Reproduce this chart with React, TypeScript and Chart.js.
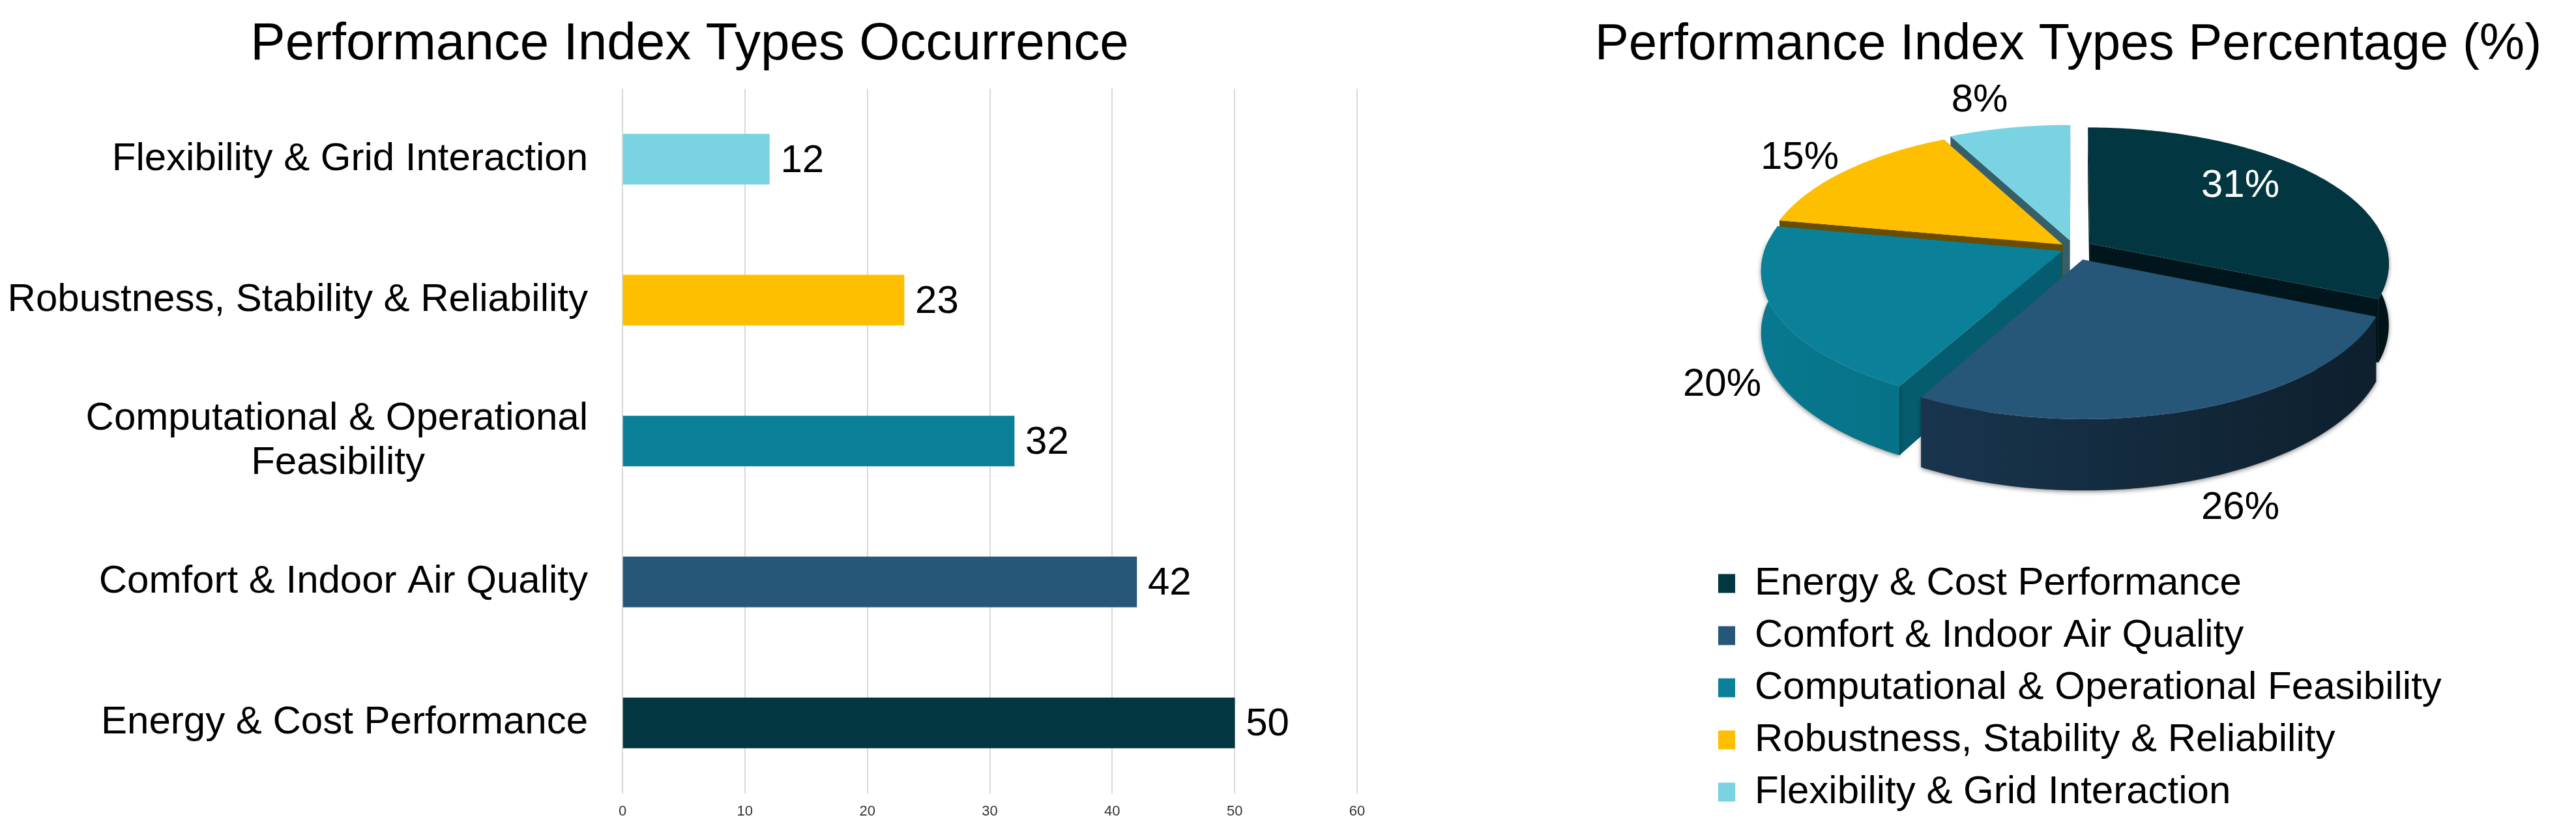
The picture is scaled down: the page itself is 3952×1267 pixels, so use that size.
import React, { useEffect, useRef } from "react";
import { Chart, registerables } from "chart.js";

Chart.register(...registerables);

const FONT = "'Liberation Sans', Arial, sans-serif";

const categories = [
  "Energy & Cost Performance",
  "Comfort & Indoor Air Quality",
  "Computational & Operational Feasibility",
  "Robustness, Stability & Reliability",
  "Flexibility & Grid Interaction",
];
// Category tick text as the left axis shows it (top to bottom).
// The trailing spaces centre the short line under the long one.
const barTickLabels: (string | string[])[] = [
  "Flexibility & Grid Interaction",
  "Robustness, Stability & Reliability",
  ["Computational & Operational", "Feasibility               "],
  "Comfort & Indoor Air Quality",
  "Energy & Cost Performance",
];
const occurrences = [12, 23, 32, 42, 50];
const barColors = ["#7AD3E3", "#FDBF00", "#0A8099", "#275778", "#023641"];
const pieValues = [50, 42, 32, 23, 12];
const percentLabels = ["31%", "26%", "20%", "15%", "8%"];
const pieColors = ["#023641", "#275778", "#0A8099", "#FDBF00", "#7AD3E3"];
const pieCutColors = ["#00161C", "#1B3D54", "#055C6E", "#6A4D00", "#35606A"];
const pieRimLeft = ["#00222A", "#1C3C58", "#07788F", "#8A6500", "#4A8A96"];
const pieRimRight = ["#001418", "#0E1F2D", "#055A6A", "#6A4D00", "#35606A"];
const pieOffsets = [29, 40, 20, 22, 28];
const valueTicks = [0, 10, 20, 30, 40, 50, 60];

// Canvas-relative anchors for the pie's percent labels
const pieLabelPos: [number, number][] = [
  [1043, 285],
  [1043, 779],
  [248, 590],
  [367, 242],
  [643, 154],
];
const pieLabelColors = ["#FFFFFF", "#000000", "#000000", "#000000", "#000000"];

const barValueLabels = {
  id: "barValueLabels",
  afterDatasetsDraw(chart: any) {
    const { ctx } = chart;
    const meta = chart.getDatasetMeta(0);
    ctx.save();
    ctx.font = `60px ${FONT}`;
    ctx.fillStyle = "#000";
    ctx.textAlign = "left";
    ctx.textBaseline = "middle";
    meta.data.forEach((bar: any, i: number) => {
      ctx.fillText(String(occurrences[i]), bar.x + 17, bar.y + 3);
    });
    ctx.restore();
  },
};

// The title sits a little right of the space the plot leaves for it
const centreBarTitle = {
  id: "centreBarTitle",
  afterLayout(chart: any) {
    chart.titleBlock.left = 34;
  },
};

const GEO = { cx: 788, cy: 381, R: 456, d: 2908, sin: 0.45, cos: 0.893, h: 104 };

function project(px: number, py: number, z: number): [number, number] {
  const s = GEO.d / (GEO.d - py * GEO.cos);
  return [GEO.cx + px * s, GEO.cy + py * GEO.sin * s + z * GEO.cos * s];
}

const pie3d = {
  id: "pie3d",
  beforeDatasetsDraw(chart: any) {
    const { ctx } = chart;
    const arcs = chart.getDatasetMeta(0).data.map((arc: any, i: number) => {
      const a0 = arc.startAngle;
      const a1 = arc.endAngle;
      const mid = (a0 + a1) / 2;
      const off = arc.options.offset || 0;
      return { i, a0, a1, mid, ox: Math.cos(mid) * off, oy: Math.sin(mid) * off };
    });
    // Painter's order: far slices first
    arcs.sort((p: any, q: any) => Math.sin(p.mid) - Math.sin(q.mid));
    ctx.save();
    for (const s of arcs) {
      const steps = 120;
      const top: [number, number][] = [];
      const rimTop: [number, number][] = [];
      const rimBottom: [number, number][] = [];
      let edge0: [number, number] = [0, 0];
      let edge1: [number, number] = [0, 0];
      for (let k = 0; k <= steps; k++) {
        const a = s.a0 + ((s.a1 - s.a0) * k) / steps;
        const px = s.ox + GEO.R * Math.cos(a);
        const py = s.oy + GEO.R * Math.sin(a);
        top.push(project(px, py, 0));
        if (k === 0) edge0 = project(px, py, GEO.h);
        if (k === steps) edge1 = project(px, py, GEO.h);
        if (Math.sin(a) >= -0.1) {
          rimTop.push(project(px, py, 0));
          rimBottom.push(project(px, py, GEO.h));
        }
      }
      const apexT = project(s.ox, s.oy, 0);
      const apexB = project(s.ox, s.oy, GEO.h);
      const poly = (pts: [number, number][], fill: any) => {
        if (!pts.length) return;
        ctx.beginPath();
        pts.forEach((p, n) => (n ? ctx.lineTo(p[0], p[1]) : ctx.moveTo(p[0], p[1])));
        ctx.closePath();
        ctx.fillStyle = fill;
        ctx.fill();
      };
      // cut faces first
      poly([apexT, top[0], edge0, apexB], pieCutColors[s.i]);
      poly([apexT, top[steps], edge1, apexB], pieCutColors[s.i]);
      // rim
      const grad = ctx.createLinearGradient(GEO.cx - GEO.R, 0, GEO.cx + GEO.R, 0);
      grad.addColorStop(0, pieRimLeft[s.i]);
      grad.addColorStop(1, pieRimRight[s.i]);
      ctx.shadowColor = "rgba(0,0,0,0.45)";
      ctx.shadowBlur = 7;
      ctx.shadowOffsetY = 2;
      poly([...rimTop, ...rimBottom.slice().reverse()], grad);
      ctx.shadowColor = "transparent";
      ctx.shadowBlur = 0;
      ctx.shadowOffsetY = 0;
      // top face
      poly([apexT, ...top], pieColors[s.i]);
    }
    ctx.font = `60px ${FONT}`;
    ctx.textAlign = "center";
    ctx.textBaseline = "middle";
    percentLabels.forEach((t, i) => {
      ctx.fillStyle = pieLabelColors[i];
      ctx.fillText(t, pieLabelPos[i][0], pieLabelPos[i][1]);
    });
    ctx.restore();
    return false;
  },
};

const moveLegend = {
  id: "moveLegend",
  afterLayout(chart: any) {
    const lg = chart.legend;
    lg.left = 222;
    lg.width = 1300;
    lg.right = 222 + 1300;
    lg.top = 845;
    lg.height = 2000;
    lg.bottom = 845 + 2000;
  },
};

export default function App() {
  const barRef = useRef<HTMLCanvasElement>(null);
  const pieRef = useRef<HTMLCanvasElement>(null);

  useEffect(() => {
    const bar = new Chart(barRef.current!, {
      type: "bar",
      data: {
        labels: barTickLabels as any,
        datasets: [
          {
            data: occurrences,
            backgroundColor: barColors,
            barThickness: 77,
            borderWidth: 0,
          },
        ],
      },
      options: {
        indexAxis: "y",
        animation: false,
        responsive: false,
        layout: { padding: { right: 34, left: 0, top: 0, bottom: 0 } },
        plugins: {
          legend: { display: false },
          tooltip: { enabled: false },
          title: {
            display: true,
            text: "Performance Index Types Occurrence",
            color: "#000",
            font: { family: FONT, size: 80, weight: "normal" },
            padding: { top: 21, bottom: 19 },
          },
        },
        scales: {
          x: {
            min: 0,
            max: 60,
            afterBuildTicks(scale: any) {
              scale.ticks = valueTicks.map((value) => ({ value }));
            },
            afterFit(scale: any) {
              scale.height = 50;
            },
            grid: { color: "#D9D9D9", lineWidth: 2, drawTicks: false },
            border: { display: false },
            ticks: {
              color: "#333",
              font: { family: FONT, size: 22 },
              padding: 15,
              maxRotation: 0,
            },
          },
          y: {
            afterFit(scale: any) {
              scale.width = 955;
              scale.paddingTop = 0;
              scale.paddingBottom = 0;
            },
            grid: { display: false, drawTicks: false },
            border: { display: false },
            ticks: {
              color: "#000",
              font: { family: FONT, size: 60, lineHeight: 1.133 },
              padding: 53,
              autoSkip: false,
            },
          },
        },
      },
      plugins: [barValueLabels, centreBarTitle],
    } as any);

    const pie = new Chart(pieRef.current!, {
      type: "pie",
      data: {
        labels: categories,
        datasets: [
          {
            data: pieValues,
            backgroundColor: pieColors,
            offset: pieOffsets,
            borderWidth: 0,
          },
        ],
      },
      options: {
        animation: false,
        responsive: false,
        plugins: {
          tooltip: { enabled: false },
          title: {
            display: true,
            text: "Performance Index Types Percentage (%)",
            color: "#000",
            font: { family: FONT, size: 78, weight: "normal" },
            padding: { top: 23, bottom: 18 },
          },
          legend: {
            position: "left",
            align: "start",
            labels: {
              color: "#000",
              boxWidth: 26,
              boxHeight: 29,
              padding: 20,
              font: { family: FONT, size: 60 },
            },
          },
        },
      },
      plugins: [pie3d, moveLegend],
    } as any);

    return () => {
      bar.destroy();
      pie.destroy();
    };
  }, []);

  return (
    <div style={{ position: "absolute", left: 0, top: 0, width: 3952, height: 1267, overflow: "hidden", background: "#fff" }}>
      <canvas ref={barRef} width={2116} height={1267} style={{ position: "absolute", left: 0, top: 0 }} />
      <canvas ref={pieRef} width={1558} height={1267} style={{ position: "absolute", left: 2394, top: 0 }} />
    </div>
  );
}
